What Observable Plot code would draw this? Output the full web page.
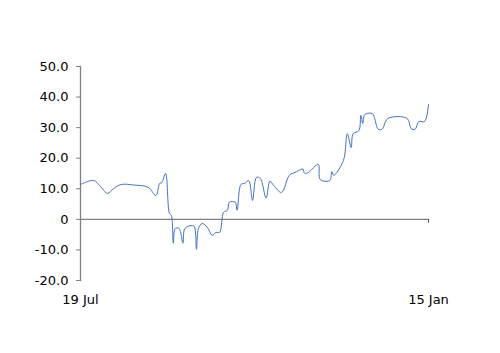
<!DOCTYPE html>
<html><head><meta charset="utf-8">
<script src="https://cdn.jsdelivr.net/npm/d3@7"></script>
<script src="https://cdn.jsdelivr.net/npm/@observablehq/plot@0.6"></script>
<style>body{margin:0;background:#fff}</style>
</head><body><div id="chart"></div>
<script>
const dates = ["2023-07-19","2023-07-22","2023-07-26","2023-07-29","2023-08-02","2023-08-05","2023-08-09","2023-08-16","2023-08-23","2023-08-27","2023-08-29","2023-08-30","2023-09-01","2023-09-03","2023-09-04","2023-09-05","2023-09-06","2023-09-08","2023-09-10","2023-09-11","2023-09-15","2023-09-16","2023-09-17","2023-09-18","2023-09-20","2023-09-23","2023-09-25","2023-09-27","2023-09-29","2023-10-01","2023-10-03","2023-10-04","2023-10-07","2023-10-08","2023-10-10","2023-10-12","2023-10-14","2023-10-16","2023-10-18","2023-10-20","2023-10-23","2023-10-25","2023-10-27","2023-10-31","2023-11-04","2023-11-07","2023-11-10","2023-11-11","2023-11-12","2023-11-14","2023-11-19","2023-11-20","2023-11-25","2023-11-26","2023-11-27","2023-12-02","2023-12-04","2023-12-06","2023-12-07","2023-12-10","2023-12-11","2023-12-12","2023-12-13","2023-12-17","2023-12-18","2023-12-20","2023-12-22","2023-12-25","2024-01-04","2024-01-06","2024-01-08","2024-01-10","2024-01-13","2024-01-15"];
const values = [11.4,12.2,12.7,11.0,8.5,10.0,11.4,11.2,10.5,7.8,11.8,12.0,15.0,2.0,1.3,-7.8,-3.0,-3.0,-7.8,-3.0,-2.0,-2.5,-9.8,-3.0,-1.3,-3.0,-5.2,-4.3,-4.2,2.3,3.0,5.6,5.6,3.0,11.4,11.8,12.7,6.2,13.7,13.4,7.0,12.5,11.0,8.8,14.4,15.4,16.3,16.5,15.0,15.4,18.0,13.0,12.7,15.6,14.4,19.3,28.0,23.5,28.0,29.0,34.0,31.4,34.3,34.6,33.3,29.5,29.5,33.0,33.0,29.7,29.4,32.0,32.0,37.6];
const xTicks = ["2023-07-19","2024-01-15"];
const yTicks = [-20,-10,0,10,20,30,40,50];

const data = dates.map((d,i)=>({date:new Date(d), value:values[i]}));
const xt = xTicks.map(d=>new Date(d));
const fmt = d3.utcFormat("%-d %b");

const chart = Plot.plot({
  width: 500, height: 353,
  marginLeft: 80, marginRight: 72, marginTop: 66, marginBottom: 73,
  style: {fontFamily: "DejaVu Sans, Verdana, sans-serif", fontSize: "13px", color: "#000", background: "#fff"},
  x: {type: "utc", domain: xt},
  y: {domain: [-20, 50]},
  marks: [
    Plot.axisY({ticks: yTicks, tickSize: 4, tickPadding: 8, stroke: "#808080", fill: "#000", label: null,
      tickFormat: d => d === 0 ? "0" : d.toFixed(1)}),
    Plot.frame({anchor: "left", stroke: "#808080", strokeWidth: 1.3}),
    Plot.axisX({ticks: xt, tickSize: 0, tickPadding: 14, fill: "#000", label: null, tickFormat: fmt}),
    Plot.ruleY([0], {stroke: "#808080", strokeWidth: 1.2}),
    Plot.ruleX([xt[1]], {y1: 0, y2: 0, insetBottom: -4, stroke: "#555"}),
    Plot.line(data, {x: "date", y: "value", stroke: "#4472C4", strokeWidth: 1, curve: "catmull-rom"})
  ]
});
document.getElementById("chart").appendChild(chart);
</script></body></html>
